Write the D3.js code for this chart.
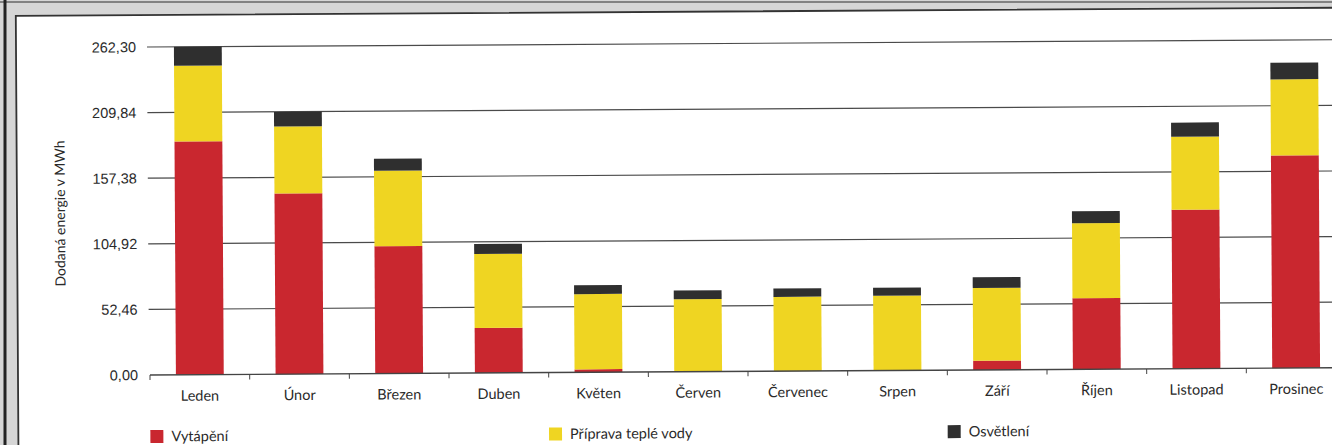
<!DOCTYPE html>
<html>
<head>
<meta charset="utf-8">
<script src="https://cdn.jsdelivr.net/npm/d3@7"></script>
<style>
  body { margin: 0; background: #d6d6d6; }
  svg { display: block; font-family: Lato, "Open Sans", sans-serif; }
</style>
</head>
<body>
<div id="canvas"></div>
<script>
// mesice
const months = ["Leden", "Únor", "Březen", "Duben", "Květen", "Červen",
  "Červenec", "Srpen", "Září", "Říjen", "Listopad", "Prosinec"];

// dodana energie v MWh po slozkach
const heating  = [186.6, 144.5, 101.8, 36.0, 2.4, 0, 0, 0, 7.4, 56.8, 127.2, 170.1];
const hotWater = [60.5, 53.6, 60.5, 59.2, 60.2, 58.0, 59.4, 59.8, 58.2, 60.0, 58.4, 60.8];
const lighting = [15.2, 11.7, 9.6, 8.0, 7.0, 7.0, 6.7, 6.4, 8.5, 9.6, 11.2, 13.3];

const yTicks = [0, 52.46, 104.92, 157.38, 209.84, 262.30];
const seriesNames = ["Vytápění", "Příprava teplé vody", "Osvětlení"];
const seriesColors = ["#c9272f", "#efd522", "#2f2f2f"];

const width = 1332;
const height = 445;
const margin = { top: 47, left: 150, bottom: 70, right: -14 };
const iheight = height - margin.top - margin.bottom;
const txt = "#2a2a2a";

const svg = d3.select("#canvas").append("svg")
  .attr("width", width)
  .attr("height", height);

// ramecek jako na skenu
svg.append("rect").attr("x", 0).attr("y", 0).attr("width", width).attr("height", height)
  .style("fill", "#d6d6d6");
svg.append("line").attr("x1", 0).attr("x2", width).attr("y1", 2).attr("y2", 2)
  .style("stroke", "#666").style("stroke-width", 1.5);
svg.append("line").attr("x1", 5).attr("x2", 5).attr("y1", 0).attr("y2", height)
  .style("stroke", "#222").style("stroke-width", 3);

// sken je mirne pootoceny
const page = svg.append("g")
  .attr("transform", "rotate(-0.35, 150, 375)");

page.append("rect").attr("x", 18).attr("y", 15).attr("width", width + 40).attr("height", height + 40)
  .style("fill", "#fff").style("stroke", "#333").style("stroke-width", 1.8);

const data = months.map((m, i) => ({
  month: m, heat: heating[i], water: hotWater[i], light: lighting[i]
}));
const keys = ["heat", "water", "light"];
const stacked = d3.stack().keys(keys)(data);

const x = d3.scaleBand()
  .domain(months)
  .range([0, width - margin.left - margin.right])
  .paddingInner(0.52)
  .paddingOuter(0.26);

const y = d3.scaleLinear()
  .domain([0, 262.30])
  .range([iheight, 0]);

const g = page.append("g")
  .attr("transform", `translate(${margin.left}, ${margin.top})`);

const fmt = v => d3.format(".2f")(v).replace(".", ",");

// mrizka
g.selectAll("line.grid").data(yTicks.slice(1)).enter()
  .append("line")
  .attr("class", "grid")
  .attr("x1", -1).attr("x2", width)
  .attr("y1", d => y(d)).attr("y2", d => y(d))
  .style("stroke", "#4a4a4a").style("stroke-width", 1.2);

// sloupce
g.selectAll("g.layer").data(stacked).enter()
  .append("g")
  .attr("class", "layer")
  .style("fill", (d, i) => seriesColors[i])
  .selectAll("rect").data(d => d).enter()
  .append("rect")
  .attr("x", d => x(d.data.month))
  .attr("y", d => y(d[1]))
  .attr("height", d => y(d[0]) - y(d[1]))
  .attr("width", x.bandwidth());

// osa y
const yAxis = g.append("g")
  .call(d3.axisLeft(y).tickValues(yTicks).tickFormat(fmt).tickSize(0).tickPadding(12));
yAxis.select(".domain").remove();
yAxis.selectAll("text").style("font-size", "14.5px").style("fill", txt);

// osa x
const step = x.step();
const xg = g.append("g").attr("transform", `translate(0, ${iheight})`);
xg.append("line").attr("x1", 0).attr("x2", width).attr("y1", 0).attr("y2", 0)
  .style("stroke", "#444").style("stroke-width", 1.4);
xg.selectAll("line.tick").data(d3.range(months.length + 1)).enter()
  .append("line")
  .attr("class", "tick")
  .attr("x1", d => d * step).attr("x2", d => d * step)
  .attr("y1", 0).attr("y2", 5)
  .style("stroke", "#444");
xg.selectAll("text").data(months).enter()
  .append("text")
  .attr("x", d => x(d) + x.bandwidth() / 2)
  .attr("y", 26)
  .attr("text-anchor", "middle")
  .style("font-size", "14.5px").style("fill", txt)
  .text(d => d);

// popisek osy y
page.append("text")
  .attr("transform", "translate(66, 213) rotate(-90)")
  .attr("text-anchor", "middle")
  .style("font-size", "14px").style("fill", txt)
  .text("Dodaná energie v MWh");

// legenda
const legend = page.append("g");
seriesNames.forEach((name, i) => {
  const lx = margin.left + i * 4 * step;
  legend.append("rect")
    .attr("x", lx).attr("y", 430).attr("width", 13).attr("height", 13)
    .style("fill", seriesColors[i]);
  legend.append("text")
    .attr("x", lx + 21).attr("y", 441.5)
    .style("font-size", "14.5px").style("fill", txt)
    .text(name);
});
</script>
</body>
</html>
